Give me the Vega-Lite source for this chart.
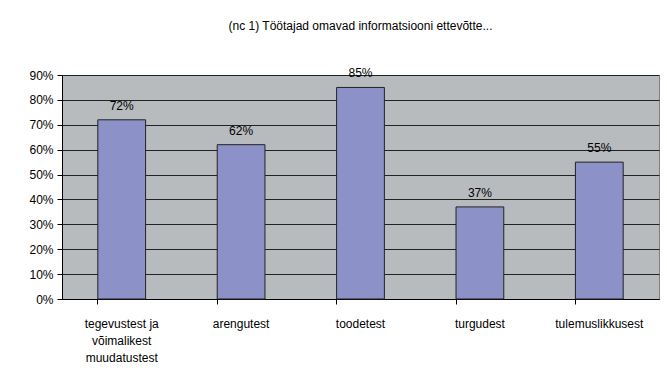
{
  "$schema": "https://vega.github.io/schema/vega-lite/v6.json",
  "width": 597,
  "height": 224,
  "autosize": {"type": "none"},
  "padding": {"left": 62, "top": 75, "right": 8, "bottom": 77},
  "background": "white",
  "title": {
    "text": "(nc 1) Töötajad omavad informatsiooni ettevõtte...",
    "frame": "group",
    "anchor": "middle",
    "font": "Liberation Sans",
    "fontSize": 12,
    "fontWeight": "normal",
    "color": "#000000",
    "baseline": "middle",
    "offset": 29
  },
  "data": {
    "values": [
      {"category": "tegevustest ja|võimalikest|muudatustest", "value": 0.72, "label": "72%"},
      {"category": "arengutest", "value": 0.62, "label": "62%"},
      {"category": "toodetest", "value": 0.85, "label": "85%"},
      {"category": "turgudest", "value": 0.37, "label": "37%"},
      {"category": "tulemuslikkusest", "value": 0.55, "label": "55%"}
    ]
  },
  "encoding": {
    "x": {
      "field": "category",
      "type": "nominal",
      "sort": null,
      "scale": {"paddingInner": 0.6, "paddingOuter": 0.3},
      "axis": {
        "title": null,
        "labelAngle": 0,
        "labelExpr": "split(datum.label, '|')",
        "labelFont": "Liberation Sans",
        "labelFontSize": 12,
        "labelColor": "#000000",
        "labelLineHeight": 17,
        "labelPadding": 14,
        "labelLimit": 200,
        "bandPosition": 0,
        "tickSize": 5,
        "tickColor": "#000000",
        "domainColor": "#000000",
        "grid": false
      }
    },
    "y": {
      "field": "value",
      "type": "quantitative",
      "scale": {"domain": [0, 0.9], "nice": false},
      "axis": {
        "title": null,
        "format": ".0%",
        "values": [0, 0.1, 0.2, 0.3, 0.4, 0.5, 0.6, 0.7, 0.8, 0.9],
        "labelFont": "Liberation Sans",
        "labelFontSize": 12,
        "labelColor": "#000000",
        "labelPadding": 4,
        "tickSize": 5,
        "tickColor": "#000000",
        "domainColor": "#000000",
        "grid": true,
        "gridColor": "#222222",
        "gridOpacity": 1,
        "gridWidth": 1
      }
    }
  },
  "layer": [
    {
      "mark": {"type": "bar", "color": "#8C92C8", "stroke": "#222222", "strokeWidth": 1}
    },
    {
      "mark": {"type": "text", "baseline": "bottom", "dy": -7, "font": "Liberation Sans", "fontSize": 12, "color": "#000000"},
      "encoding": {"text": {"field": "label"}}
    }
  ],
  "config": {
    "view": {"fill": "#B8BBBE", "stroke": "#808080", "strokeWidth": 1}
  }
}
